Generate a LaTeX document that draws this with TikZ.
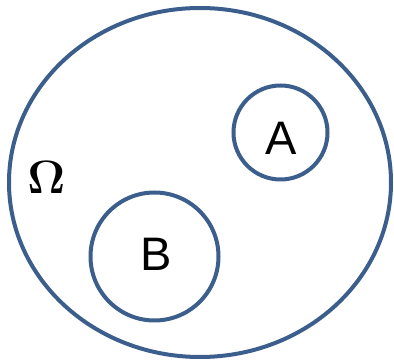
\documentclass[tikz,border=0pt]{standalone}
\usepackage{amsmath,amssymb}
\usepackage{fontspec}
\newfontfamily\labelfont{Liberation Sans}
\usetikzlibrary{shapes.geometric}
\definecolor{setblue}{HTML}{3B5E8C}

\begin{document}
\begin{tikzpicture}[x=1pt, y=-1pt, line width=4pt,
	setline/.style={draw=setblue, inner sep=0pt},
	setname/.style={inner sep=0pt, font=\labelfont\fontsize{47}{47}\selectfont}]
	\useasboundingbox (0,0) rectangle (394,363);
	\node[setline, ellipse, minimum width=382pt, minimum height=349pt] (universe) at (200,182.5) {};
	\node[setline, circle, minimum size=94pt] (A) at (280.5,132.5) {};
	\node[setline, circle, minimum size=128pt] (B) at (154.5,256.5) {};
	\node[setname] (labelA) at (281,138.5) {A};
	\node[setname] (labelB) at (156,254) {B};
	\node[font=\Huge] (omega) at (46.5,177) {\scalebox{1.88}{$\boldsymbol{\Omega}$}};
\end{tikzpicture}
\end{document}
